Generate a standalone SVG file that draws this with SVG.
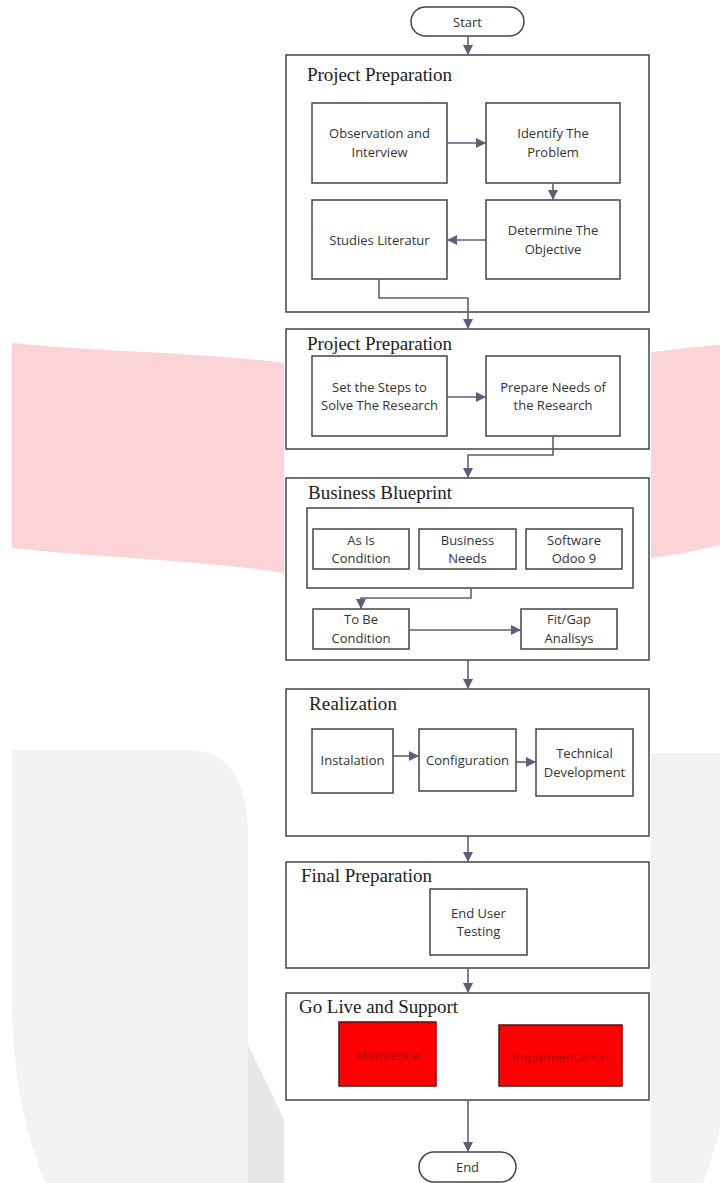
<svg xmlns="http://www.w3.org/2000/svg" width="720" height="1183" viewBox="0 0 720 1183">
<style>
.box{fill:#fff;stroke:#444;stroke-width:1.5}
.red{fill:#ff0000;stroke:#5a1010;stroke-width:1.5}
.t{font-family:"Open Sans","Liberation Sans",sans-serif;font-size:13px;fill:#333;text-anchor:middle}
.rt{font-family:"Open Sans","Liberation Sans",sans-serif;font-size:13px;fill:#a80000;text-anchor:middle}
.ttl{font-family:"Liberation Serif","Times New Roman",serif;font-size:19px;fill:#222}
.c{fill:none;stroke:#5e5e7a;stroke-width:1.6;marker-end:url(#ah)}
</style>
<defs>
<marker id="ah" markerUnits="userSpaceOnUse" markerWidth="10" markerHeight="10" refX="10" refY="5" orient="auto">
<path d="M0,0 L10,5 L0,10 Z" fill="#5e5e7a"/>
</marker>
</defs>
<rect width="720" height="1183" fill="#fff"/>
<g id="watermark">
<path d="M12,343 C100,352 200,352 284,363 L284,573 C200,560 100,558 12,548 Z" fill="#fcd4d7"/>
<path d="M651,352 C680,349 700,346 720,345 L720,545 C700,550 680,554 651,558 Z" fill="#fcd4d7"/>
<path d="M12,750 L190,750 Q248,752 248,837 L248,1183 L45,1183 C25,1130 13,1080 12,1000 Z" fill="#f2f2f2"/>
<path d="M248,1045 Q268,1085 284,1120 L284,1183 L248,1183 Z" fill="#e7e7e7"/>
<path d="M651,753 L720,753 L720,1127 Q712,1160 703,1183 L651,1183 Z" fill="#f2f2f2"/>
<rect x="284" y="0" width="367" height="1183" fill="#fff"/>
</g>
<g id="start"><rect x="411" y="7" width="113" height="29" rx="14.5" class="box"/><text x="467.5" y="26.5" class="t">Start</text></g>
<g id="phase1"><rect x="286" y="55" width="363" height="257" class="box"/><text x="307" y="81" class="ttl" textLength="145" lengthAdjust="spacing">Project Preparation</text></g>
<g id="obs"><rect x="312" y="103" width="135" height="80" class="box"/><text class="t"><tspan x="379.5" y="138">Observation and</tspan><tspan x="379.5" y="156.5">Interview</tspan></text></g>
<g id="identify"><rect x="486" y="103" width="134" height="80" class="box"/><text class="t"><tspan x="553" y="138">Identify The</tspan><tspan x="553" y="156.5">Problem</tspan></text></g>
<g id="determine"><rect x="486" y="200" width="134" height="79" class="box"/><text class="t"><tspan x="553" y="234.5">Determine The</tspan><tspan x="553" y="253.5">Objective</tspan></text></g>
<g id="studies"><rect x="312" y="200" width="135" height="79" class="box"/><text x="379.5" y="244.5" class="t">Studies Literatur</text></g>
<g id="phase2"><rect x="286" y="329" width="363" height="120" class="box"/><text x="307" y="350" class="ttl" textLength="145" lengthAdjust="spacing">Project Preparation</text></g>
<g id="setsteps"><rect x="312" y="356" width="135" height="80" class="box"/><text class="t"><tspan x="379.5" y="391.5">Set the Steps to</tspan><tspan x="379.5" y="409.5">Solve The Research</tspan></text></g>
<g id="prepare"><rect x="486" y="356" width="134" height="80" class="box"/><text class="t"><tspan x="553" y="391.5">Prepare Needs of</tspan><tspan x="553" y="409.5">the Research</tspan></text></g>
<g id="phase3"><rect x="286" y="478" width="363" height="182" class="box"/><text x="308" y="499" class="ttl" textLength="144" lengthAdjust="spacing">Business Blueprint</text></g>
<g id="inputs"><rect x="307" y="508" width="326" height="80" class="box"/></g>
<g id="asis"><rect x="313" y="529" width="96" height="40" class="box"/><text class="t"><tspan x="361" y="544.5">As Is</tspan><tspan x="361" y="562.5">Condition</tspan></text></g>
<g id="needs"><rect x="419" y="529" width="97" height="40" class="box"/><text class="t"><tspan x="467.5" y="544.5">Business</tspan><tspan x="467.5" y="562.5">Needs</tspan></text></g>
<g id="software"><rect x="526" y="529" width="96" height="40" class="box"/><text class="t"><tspan x="574" y="544.5">Software</tspan><tspan x="574" y="562.5">Odoo 9</tspan></text></g>
<g id="tobe"><rect x="313" y="609" width="96" height="40" class="box"/><text class="t"><tspan x="361" y="623.5">To Be</tspan><tspan x="361" y="642.5">Condition</tspan></text></g>
<g id="fitgap"><rect x="521" y="609" width="96" height="40" class="box"/><text class="t"><tspan x="569" y="623.5">Fit/Gap</tspan><tspan x="569" y="642.5">Analisys</tspan></text></g>
<g id="phase4"><rect x="286" y="689" width="363" height="147" class="box"/><text x="309" y="710" class="ttl" textLength="88" lengthAdjust="spacing">Realization</text></g>
<g id="install"><rect x="312" y="729" width="81" height="64" class="box"/><text x="352.5" y="764.5" class="t">Instalation</text></g>
<g id="config"><rect x="419" y="729" width="97" height="62" class="box"/><text x="467.5" y="764.5" class="t">Configuration</text></g>
<g id="techdev"><rect x="536" y="729" width="97" height="67" class="box"/><text class="t"><tspan x="584.5" y="757.5">Technical</tspan><tspan x="584.5" y="776.5">Development</tspan></text></g>
<g id="phase5"><rect x="286" y="862" width="363" height="106" class="box"/><text x="301" y="882" class="ttl" textLength="131" lengthAdjust="spacing">Final Preparation</text></g>
<g id="testing"><rect x="430" y="889" width="97" height="66" class="box"/><text class="t"><tspan x="478.5" y="917.5">End User</tspan><tspan x="478.5" y="935.5">Testing</tspan></text></g>
<g id="phase6"><rect x="286" y="993" width="363" height="107" class="box"/><text x="299" y="1013" class="ttl" textLength="159" lengthAdjust="spacing">Go Live and Support</text></g>
<g id="maintence"><rect x="339" y="1022" width="97" height="64" class="red"/><text x="387.5" y="1059.5" class="rt">Maintence</text></g>
<g id="implementation"><rect x="499" y="1025" width="123" height="61" class="red"/><text x="560.5" y="1061.5" class="rt">Implementation</text></g>
<g id="end"><rect x="419" y="1152" width="97" height="30" rx="15" class="box"/><text x="467.5" y="1171.5" class="t">End</text></g>
<g id="connectors">
<path class="c" d="M468,36 V55"/>
<path class="c" d="M447,143 H486"/>
<path class="c" d="M553,183 V200"/>
<path class="c" d="M486,240 H447"/>
<path class="c" d="M379,279 V298 H468 V329"/>
<path class="c" d="M447,397 H486"/>
<path class="c" d="M553,436 V455 H468 V478"/>
<path class="c" d="M471,588 V598 H361 V609"/>
<path class="c" d="M409,630 H521"/>
<path class="c" d="M468,660 V689"/>
<path class="c" d="M393,756 H419"/>
<path class="c" d="M516,762 H536"/>
<path class="c" d="M468,836 V862"/>
<path class="c" d="M468,968 V993"/>
<path class="c" d="M468,1100 V1152"/>
</g>
</svg>
